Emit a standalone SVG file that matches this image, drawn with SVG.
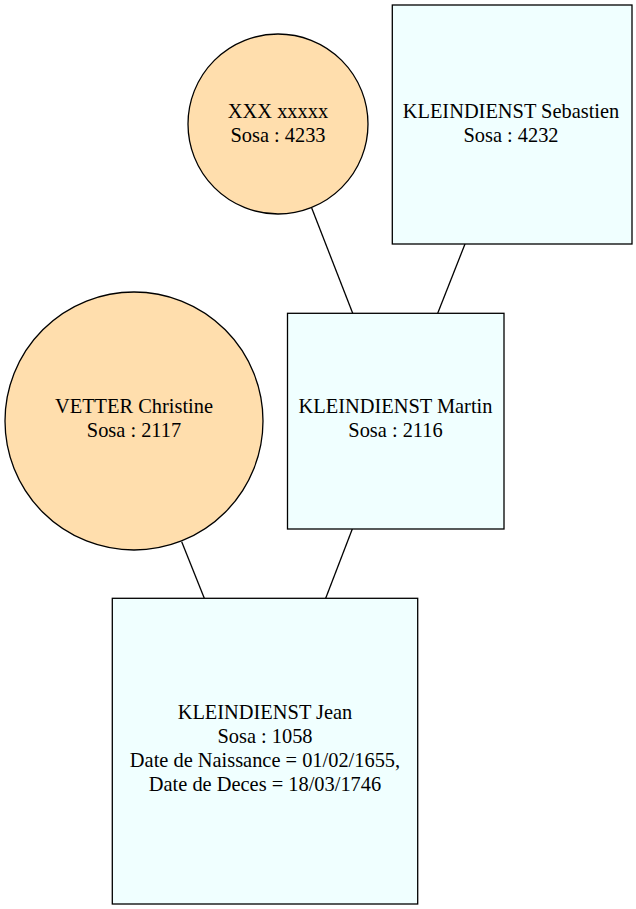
<svg xmlns="http://www.w3.org/2000/svg" width="636" height="909" viewBox="0 0 636 909">
<style>
.f{fill:#ffdead;stroke:#000;stroke-width:1.3}
.m{fill:#f0ffff;stroke:#000;stroke-width:1.3}
.e{stroke:#000;stroke-width:1.3;fill:none}
.t{font-family:'Liberation Serif','Times New Roman','DejaVu Serif',serif;font-size:20.4px;text-anchor:middle;fill:#000}
</style>
<rect width="636" height="909" fill="#fff"/>
<g id="connectors">
<line class="e" x1="311.7" y1="208" x2="352.7" y2="313.3"/>
<line class="e" x1="465" y1="244" x2="437.7" y2="313.3"/>
<line class="e" x1="181.7" y1="541.7" x2="204.3" y2="598.3"/>
<line class="e" x1="352.3" y1="529" x2="325.7" y2="598.3"/>
</g>
<g id="n4233" class="t">
<circle class="f" cx="278" cy="124" r="90"/>
<text x="278" y="118">XXX xxxxx</text>
<text x="278" y="142">Sosa : 4233</text>
</g>
<g id="n4232" class="t">
<rect class="m" x="392.3" y="5" width="239.7" height="239"/>
<text x="511" y="118">KLEINDIENST Sebastien</text>
<text x="511" y="142">Sosa : 4232</text>
</g>
<g id="n2117" class="t">
<circle class="f" cx="134" cy="421" r="129"/>
<text x="134" y="413">VETTER Christine</text>
<text x="134" y="437">Sosa : 2117</text>
</g>
<g id="n2116" class="t">
<rect class="m" x="287.5" y="313.3" width="216.5" height="215.7"/>
<text x="395.5" y="413">KLEINDIENST Martin</text>
<text x="395.5" y="437">Sosa : 2116</text>
</g>
<g id="n1058" class="t">
<rect class="m" x="112.3" y="598.3" width="305.4" height="305.7"/>
<text x="265" y="719">KLEINDIENST Jean</text>
<text x="265" y="743">Sosa : 1058</text>
<text x="265" y="767">Date de Naissance = 01/02/1655,</text>
<text x="265" y="791">Date de Deces = 18/03/1746</text>
</g>
</svg>
